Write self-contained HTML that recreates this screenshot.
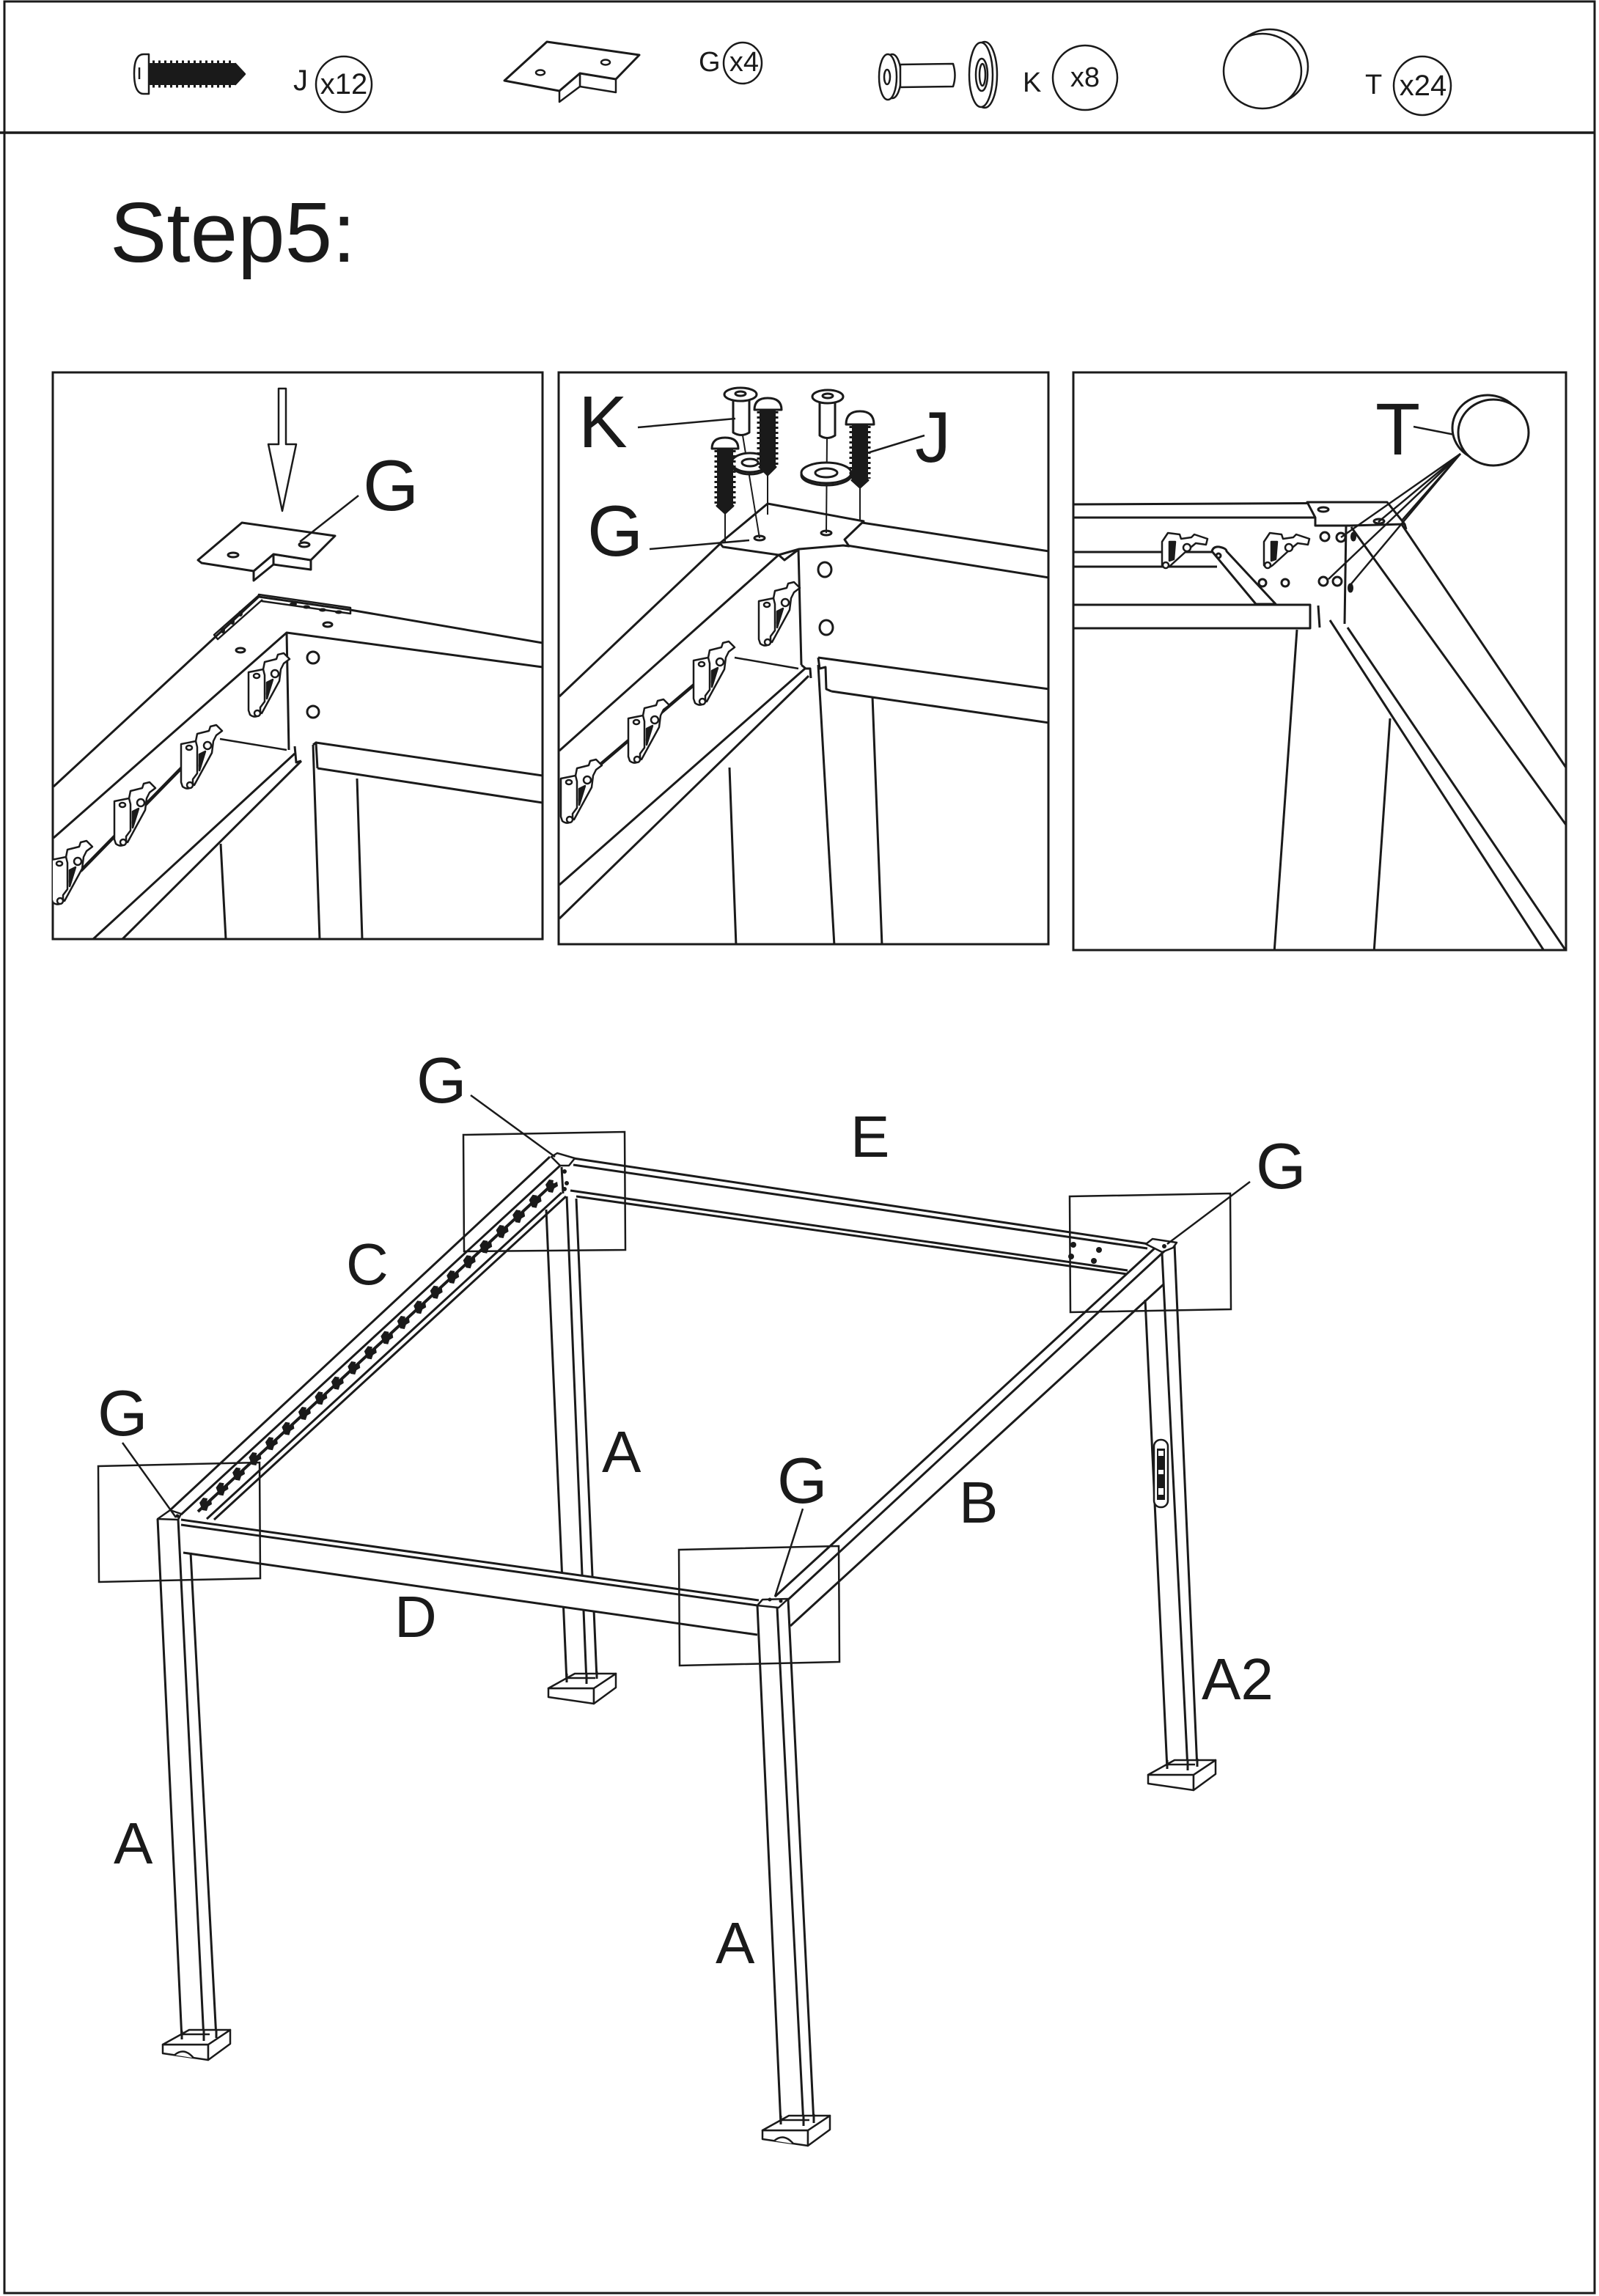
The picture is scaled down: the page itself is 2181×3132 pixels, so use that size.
<!DOCTYPE html>
<html><head><meta charset="utf-8"><style>
html,body{margin:0;padding:0;background:#fff;}
svg{display:block;}
text{font-family:"Liberation Sans",Arial,sans-serif;fill:#1a1a1a;}
</style></head><body>
<svg width="2181" height="3132" viewBox="0 0 2181 3132" xmlns="http://www.w3.org/2000/svg">
<defs>
<clipPath id="c1"><rect x="72" y="508" width="668" height="773"/></clipPath>
<clipPath id="c2"><rect x="762" y="508" width="668" height="780"/></clipPath>
<clipPath id="c3"><rect x="1464" y="508" width="672" height="788"/></clipPath>
<g id="hg" fill="#fff" stroke="#1a1a1a" stroke-width="2.5" stroke-linejoin="round">
  <path d="M22,26 L24,16 L40,12 L42,6 L50,4 L58,12 L50,18 L46,26 L44,42 L20,86 L14,80 L24,60 Z"/>
  <path d="M2,30 L22,26 L24,34 L24,70 L18,78 L18,86 Q12,94 4,88 L2,82 Z"/>
  <ellipse cx="13" cy="35" rx="4" ry="3"/>
  <path d="M27,44 L35,40 L27,66 Z" fill="#1a1a1a"/>
  <circle cx="38" cy="32" r="5"/>
  <circle cx="14" cy="86" r="4"/>
</g>
<g id="hg3" fill="#fff" stroke="#1a1a1a" stroke-width="2.5" stroke-linejoin="round">
  <path d="M6,14 L14,2 L30,4 L32,10 L46,8 L50,4 L68,10 L66,18 L52,16 L40,26 L18,46 Q10,52 6,46 Z"/>
  <path d="M16,14 L24,14 L22,38 L16,40 Z" fill="#1a1a1a"/>
  <circle cx="40" cy="22" r="5"/>
  <circle cx="11" cy="46" r="4"/>
</g>
<path id="mh" d="M-8,-2 L-3,-9 L3,-8 L2,-3 L8,-6 L9,0 L4,3 L2,9 L-4,8 L-6,3 Z" fill="#1a1a1a"/>
</defs>

<!-- outer border & header line -->
<rect x="6" y="2" width="2169" height="3126" fill="none" stroke="#1a1a1a" stroke-width="3"/>
<line x1="0" y1="181" x2="2175" y2="181" stroke="#1a1a1a" stroke-width="3.5"/>

<!-- ===== HEADER PARTS ===== -->
<g stroke="#1a1a1a" stroke-width="2.5" fill="#fff" stroke-linejoin="round">
  <!-- screw J -->
  <rect x="204" y="86" width="118" height="30" fill="#1a1a1a" stroke="none"/>
  <line x1="208" y1="85" x2="320" y2="85" stroke-width="5" stroke-dasharray="3 5"/>
  <line x1="208" y1="117" x2="320" y2="117" stroke-width="5" stroke-dasharray="3 5"/>
  <polygon points="321,87 334,101 321,115" fill="#1a1a1a"/>
  <path d="M196,74 Q183,74 183,100 Q183,128 196,128 L203,128 L203,74 Z"/>
  <line x1="190" y1="92" x2="190" y2="108"/>
  <!-- plate G -->
  <path d="M791,100 L840,108 L840,126 L791,118 Z"/>
  <path d="M791,100 L763,124 L763,139 L791,118 Z"/>
  <path d="M688,110 L746,57 L872,75 L840,108 L791,100 L763,124 Z" stroke-width="3"/>
  <ellipse cx="737" cy="99" rx="6" ry="3.5"/>
  <ellipse cx="826" cy="85" rx="6" ry="3.5"/>
  <!-- bushing K -->
  <ellipse cx="1217" cy="104" rx="12" ry="30"/>
  <ellipse cx="1211" cy="105" rx="12" ry="31"/>
  <ellipse cx="1210" cy="105" rx="4" ry="10"/>
  <path d="M1228,88 L1300,87 Q1305,103 1300,118 L1228,119 Z"/>
  <!-- washer -->
  <ellipse cx="1343" cy="102" rx="17" ry="45"/>
  <ellipse cx="1338" cy="102" rx="16" ry="44"/>
  <ellipse cx="1339" cy="102" rx="8" ry="22"/>
  <ellipse cx="1340" cy="102" rx="4" ry="15"/>
  <!-- cap T -->
  <ellipse cx="1732" cy="91" rx="52" ry="51"/>
  <ellipse cx="1722" cy="97" rx="53" ry="51"/>
  <!-- count circles -->
  <ellipse cx="469" cy="115" rx="38" ry="38"/>
  <ellipse cx="1013" cy="86" rx="26" ry="28"/>
  <ellipse cx="1480" cy="106" rx="44" ry="44"/>
  <ellipse cx="1940" cy="117" rx="39" ry="40"/>
</g>
<text x="400" y="123" font-size="40">J</text>
<text x="469" y="128" font-size="40" text-anchor="middle">x12</text>
<text x="953" y="97" font-size="38">G</text>
<text x="1015" y="97" font-size="38" text-anchor="middle">x4</text>
<text x="1395" y="125" font-size="38">K</text>
<text x="1480" y="118" font-size="38" text-anchor="middle">x8</text>
<text x="1862" y="128" font-size="38">T</text>
<text x="1941" y="130" font-size="40" text-anchor="middle">x24</text>

<text x="150" y="357" font-size="116">Step5:</text>

<!-- ===== PANEL 1 ===== -->
<rect x="72" y="508" width="668" height="773" fill="none" stroke="#1a1a1a" stroke-width="3"/>
<g clip-path="url(#c1)" fill="none" stroke="#1a1a1a" stroke-width="3" stroke-linejoin="round">
  <path d="M380,530 L390,530 L390,606 L404,606 L385,697 L366,606 L380,606 Z" fill="#fff" stroke-width="2.5"/>
  <path d="M373,756 L424,764 L424,777 L373,770 Z" fill="#fff"/>
  <path d="M373,756 L346,779 L346,792 L373,770 Z" fill="#fff"/>
  <path d="M270,764 L330,713 L457,731 L424,764 L373,756 L346,779 L275,768 Z" fill="#fff"/>
  <ellipse cx="318" cy="757" rx="7" ry="3"/>
  <ellipse cx="415" cy="743" rx="7" ry="3"/>
  <line x1="489" y1="676" x2="409" y2="739" stroke-width="2.5"/>
  <!-- rails -->
  <path d="M353,811 L478,829 L478,837 L357,820 Z" fill="#fff" stroke-width="2.5"/>
  <path d="M353,812 L292,866 L297,872 L358,818" fill="#fff" stroke-width="2.5"/>
  <g fill="#1a1a1a" stroke="none">
    <ellipse cx="400" cy="824" rx="5" ry="2.5"/><ellipse cx="418" cy="828" rx="5" ry="2.5"/>
    <ellipse cx="440" cy="832" rx="5" ry="2.5"/><ellipse cx="462" cy="835" rx="5" ry="2.5"/>
    <ellipse cx="328" cy="837" rx="3" ry="4"/><ellipse cx="317" cy="848" rx="3" ry="4"/><ellipse cx="304" cy="860" rx="3" ry="4"/>
  </g>
  <!-- beams -->
  <path d="M73,1073 L353,814 L478,832 L740,877"/>
  <path d="M73,1143 L391,863 L740,910"/>
  <path d="M391,863 L394,1023"/>
  <path d="M431,1013 L740,1058"/>
  <path d="M433,1048 L740,1095"/>
  <path d="M402,1018 L404,1040 L411,1038"/>
  <path d="M427,1016 L431,1013 L433,1048"/>
  <path d="M402,1028 L127,1281"/>
  <path d="M411,1038 L167,1281"/>
  <path d="M427,1016 L436,1281"/>
  <path d="M487,1062 L494,1281"/>
  <path d="M301,1151 L308,1281"/>
  <ellipse cx="427" cy="897" rx="8" ry="8"/>
  <ellipse cx="427" cy="971" rx="8" ry="8"/>
  <ellipse cx="328" cy="887" rx="6" ry="3"/>
  <ellipse cx="447" cy="852" rx="6" ry="3"/>
  <line x1="110" y1="1188" x2="250" y2="1045" stroke-width="4.5"/>
  <line x1="300" y1="1008" x2="391" y2="1023" stroke-width="2.5"/>
  <use href="#hg" transform="translate(337,887)"/>
  <use href="#hg" transform="translate(245,985)"/>
  <use href="#hg" transform="translate(154,1063)"/>
  <use href="#hg" transform="translate(68,1143)"/>
</g>
<text x="495" y="696" font-size="98">G</text>

<!-- ===== PANEL 2 ===== -->
<rect x="762" y="508" width="668" height="780" fill="none" stroke="#1a1a1a" stroke-width="3"/>
<g clip-path="url(#c2)" fill="none" stroke="#1a1a1a" stroke-width="3" stroke-linejoin="round">
  <path d="M763,950 L982,742"/>
  <path d="M763,1024 L1062,757"/>
  <path d="M1176,713 L1431,752"/>
  <path d="M1155,744 L1431,788"/>
  <path d="M1089,749 L1093,907"/>
  <path d="M1116,897 L1431,940"/>
  <path d="M1134,943 L1431,986"/>
  <path d="M1116,897 L1118,912 L1126,910 L1127,940 L1134,943"/>
  <path d="M1098,912 L763,1207"/>
  <path d="M1103,922 L763,1253"/>
  <path d="M1093,907 L1099,912 L1105,912 L1106,925"/>
  <path d="M1116,907 L1138,1290"/>
  <path d="M1190,950 L1203,1290"/>
  <path d="M995,1047 L1004,1290"/>
  <path d="M982,741 L1047,687 L1178,711 L1152,736 L1158,745 L1150,744 L1090,749 L1062,757 L986,746 Z" fill="#fff"/>
  <path d="M1062,757 L1070,764 L1090,749" />
  <ellipse cx="1036" cy="734" rx="7" ry="3"/>
  <ellipse cx="1127" cy="727" rx="7" ry="3"/>
  <ellipse cx="1125" cy="777" rx="9" ry="10"/>
  <ellipse cx="1127" cy="856" rx="9" ry="10"/>
  <line x1="808" y1="1052" x2="949" y2="932" stroke-width="4.5"/>
  <line x1="1002" y1="897" x2="1089" y2="912" stroke-width="2.5"/>
  <use href="#hg" transform="translate(1033,790)"/>
  <use href="#hg" transform="translate(944,871)"/>
  <use href="#hg" transform="translate(855,950)"/>
  <use href="#hg" transform="translate(763,1032)"/>
  <!-- fastener lines -->
  <g stroke-width="2">
    <line x1="989" y1="698" x2="989" y2="740"/>
    <line x1="1047" y1="646" x2="1047" y2="702"/>
    <line x1="1173" y1="663" x2="1173" y2="710"/>
    <line x1="1013" y1="594" x2="1036" y2="734"/>
    <line x1="1128" y1="598" x2="1127" y2="727"/>
  </g>
  <!-- washers -->
  <ellipse cx="1023" cy="634" rx="25" ry="13" fill="#fff"/>
  <ellipse cx="1023" cy="631" rx="25" ry="13" fill="#fff"/>
  <ellipse cx="1023" cy="631" rx="11" ry="5"/>
  <ellipse cx="1127" cy="648" rx="34" ry="14" fill="#fff"/>
  <ellipse cx="1127" cy="645" rx="34" ry="14" fill="#fff"/>
  <ellipse cx="1127" cy="645" rx="15" ry="6"/>
  <!-- screws J -->
  <g>
    <rect x="978" y="611" width="22" height="80" fill="#1a1a1a" stroke="none"/>
    <line x1="977" y1="614" x2="977" y2="688" stroke-width="5" stroke-dasharray="3 4"/>
    <line x1="1001" y1="614" x2="1001" y2="688" stroke-width="5" stroke-dasharray="3 4"/>
    <polygon points="978,690 1000,690 989,700" fill="#1a1a1a"/>
    <path d="M971,612 Q971,597 989,597 Q1007,597 1007,612 Z" fill="#fff"/>
    <rect x="1036" y="558" width="22" height="80" fill="#1a1a1a" stroke="none"/>
    <line x1="1035" y1="561" x2="1035" y2="635" stroke-width="5" stroke-dasharray="3 4"/>
    <line x1="1059" y1="561" x2="1059" y2="635" stroke-width="5" stroke-dasharray="3 4"/>
    <polygon points="1036,637 1058,637 1047,648" fill="#1a1a1a"/>
    <path d="M1029,559 Q1029,543 1047,543 Q1066,543 1066,559 Z" fill="#fff"/>
    <rect x="1162" y="578" width="22" height="78" fill="#1a1a1a" stroke="none"/>
    <line x1="1161" y1="581" x2="1161" y2="653" stroke-width="5" stroke-dasharray="3 4"/>
    <line x1="1185" y1="581" x2="1185" y2="653" stroke-width="5" stroke-dasharray="3 4"/>
    <polygon points="1162,655 1184,655 1173,665" fill="#1a1a1a"/>
    <path d="M1154,579 Q1154,561 1173,561 Q1192,561 1192,579 Z" fill="#fff"/>
  </g>
  <!-- bushings K -->
  <path d="M1000,545 L1022,545 L1022,590 Q1011,597 1000,590 Z" fill="#fff"/>
  <ellipse cx="1010" cy="538" rx="22" ry="9" fill="#fff"/>
  <ellipse cx="1010" cy="537" rx="7" ry="3"/>
  <path d="M1118,548 L1139,548 L1139,594 Q1128,601 1118,594 Z" fill="#fff"/>
  <ellipse cx="1129" cy="541" rx="21" ry="9" fill="#fff"/>
  <ellipse cx="1129" cy="540" rx="7" ry="3"/>
  <!-- leaders -->
  <line x1="870" y1="583" x2="1003" y2="571" stroke-width="2.5"/>
  <line x1="1261" y1="594" x2="1186" y2="617" stroke-width="2.5"/>
  <line x1="886" y1="749" x2="1022" y2="737" stroke-width="2.5"/>
</g>
<text x="789" y="610" font-size="100">K</text>
<text x="1248" y="630" font-size="98">J</text>
<text x="801" y="758" font-size="98">G</text>

<!-- ===== PANEL 3 ===== -->
<rect x="1464" y="508" width="672" height="788" fill="none" stroke="#1a1a1a" stroke-width="3"/>
<g clip-path="url(#c3)" fill="none" stroke="#1a1a1a" stroke-width="3" stroke-linejoin="round">
  <path d="M1463,688 L1892,686"/>
  <path d="M1463,706 L1794,706"/>
  <path d="M1463,753 L1655,753"/>
  <path d="M1463,773 L1660,773"/>
  <path d="M1463,825 L1787,825 L1787,857 L1463,857"/>
  <path d="M1798,826 L1800,856"/>
  <path d="M1892,686 L2138,1050"/>
  <path d="M1843,719 L2138,1128"/>
  <path d="M1814,846 L2108,1300"/>
  <path d="M1838,856 L2138,1300"/>
  <path d="M1836,717 L1834,851"/>
  <path d="M1769,859 L1738,1300"/>
  <path d="M1896,980 L1874,1300"/>
  <path d="M1783,685 L1892,685 L1916,715 L1841,717 L1794,717 L1794,706 Z" fill="#fff"/>
  <path d="M1916,715 L1918,722"/>
  <ellipse cx="1805" cy="695" rx="7" ry="3"/>
  <ellipse cx="1881" cy="711" rx="7" ry="3"/>
  <path d="M1653,752 Q1655,745 1663,746 Q1673,748 1673,752 L1740,824 L1713,824 Z" fill="#fff"/>
  <circle cx="1662" cy="758" r="3"/>
  <use href="#hg3" transform="translate(1579,725)"/>
  <use href="#hg3" transform="translate(1718,725)"/>
  <circle cx="1807" cy="732" r="6"/>
  <circle cx="1829" cy="733" r="6"/>
  <circle cx="1805" cy="793" r="6"/>
  <circle cx="1824" cy="793" r="6"/>
  <circle cx="1722" cy="795" r="5"/>
  <circle cx="1753" cy="795" r="5"/>
  <ellipse cx="1846" cy="732" rx="2.5" ry="5" fill="#1a1a1a"/>
  <ellipse cx="1842" cy="802" rx="2.5" ry="5" fill="#1a1a1a"/>
  <g stroke-width="2.5">
    <line x1="1992" y1="619" x2="1829" y2="733"/>
    <line x1="1992" y1="619" x2="1880" y2="712"/>
    <line x1="1992" y1="619" x2="1912" y2="710"/>
    <line x1="1992" y1="619" x2="1812" y2="790"/>
    <line x1="1992" y1="619" x2="1840" y2="800"/>
    <line x1="1928" y1="582" x2="1984" y2="593"/>
  </g>
  <ellipse cx="2029" cy="584" rx="48" ry="45" fill="#fff"/>
  <ellipse cx="2037" cy="590" rx="48" ry="45" fill="#fff"/>
</g>
<text x="1876" y="620" font-size="100">T</text>

<!-- ===== MAIN FRAME ===== -->
<g fill="none" stroke="#1a1a1a" stroke-width="3" stroke-linejoin="round">
  <!-- back-left leg -->
  <path d="M745,1650 L773,2295"/>
  <path d="M773,1632 L800,2295"/>
  <path d="M786,1635 L814,2290"/>
  <!-- back-right leg A2 -->
  <path d="M1562,1773 L1592,2413"/>
  <path d="M1585,1710 L1620,2413"/>
  <path d="M1602,1698 L1633,2413"/>
  <rect x="1574" y="1964" width="19" height="92" rx="9" fill="#fff" stroke-width="2.5"/>
  <rect x="1578" y="1976" width="11" height="70" fill="#1a1a1a" stroke="none"/>
  <rect x="1580" y="1979" width="7" height="7" fill="#fff" stroke="none"/>
  <rect x="1580" y="2005" width="7" height="6" fill="#fff" stroke="none"/>
  <rect x="1580" y="2030" width="7" height="9" fill="#fff" stroke="none"/>
  <!-- E beam -->
  <path d="M782,1580 L1567,1697"/>
  <path d="M782,1589 L1565,1703"/>
  <path d="M778,1624 L1538,1733"/>
  <path d="M786,1632 L1537,1738"/>
  <!-- B beam -->
  <path d="M1057,2178 L1578,1700"/>
  <path d="M1075,2182 L1590,1705"/>
  <path d="M1078,2218 L1587,1752"/>
  <!-- back-right corner cap -->
  <path d="M1563,1697 L1572,1690 L1605,1695 L1600,1702 L1585,1708 Z" fill="#fff" stroke-width="2.5"/>
  <!-- C beam -->
  <path d="M232,2060 L750,1578"/>
  <path d="M247,2066 L764,1590"/>
  <path d="M282,2072 L766,1627"/>
  <path d="M292,2073 L772,1632"/>
  <path d="M752,1578 L760,1573 L784,1580 L776,1590 L764,1590 Z" fill="#fff" stroke-width="2.5"/>
  <path d="M766,1592 L768,1628"/>
  <line x1="270" y1="2062" x2="755" y2="1614" stroke-width="4"/>
  <!-- D beam (occludes back leg) -->
  <path d="M247,2073 L1035,2183 L1033,2230 L250,2118 Z" fill="#fff" stroke="none"/>
  <path d="M247,2073 L1035,2183"/>
  <path d="M247,2080 L1033,2190"/>
  <path d="M250,2118 L1033,2230"/>
  <!-- front-left leg -->
  <path d="M215,2072 L248,2782"/>
  <path d="M243,2073 L278,2782"/>
  <path d="M260,2118 L295,2780"/>
  <path d="M215,2072 L232,2060 L247,2065 L243,2073 Z" fill="#fff" stroke-width="2.5"/>
  <!-- front-right leg -->
  <path d="M1033,2190 L1065,2898"/>
  <path d="M1060,2193 L1096,2898"/>
  <path d="M1075,2182 L1110,2896"/>
  <path d="M1033,2190 L1040,2182 L1075,2181 L1062,2193 Z" fill="#fff" stroke-width="2.5"/>
</g>
<!-- hinge row on C -->
<g>
  <use href="#mh" x="280" y="2052"/><use href="#mh" x="302.5" y="2031.3"/><use href="#mh" x="325" y="2010.7"/>
  <use href="#mh" x="347.4" y="1990"/><use href="#mh" x="369.9" y="1969.3"/><use href="#mh" x="392.4" y="1948.7"/>
  <use href="#mh" x="414.9" y="1928"/><use href="#mh" x="437.4" y="1907.3"/><use href="#mh" x="459.8" y="1886.7"/>
  <use href="#mh" x="482.3" y="1866"/><use href="#mh" x="504.8" y="1845.3"/><use href="#mh" x="527.3" y="1824.7"/>
  <use href="#mh" x="549.8" y="1804"/><use href="#mh" x="572.2" y="1783.3"/><use href="#mh" x="594.7" y="1762.7"/>
  <use href="#mh" x="617.2" y="1742"/><use href="#mh" x="639.7" y="1721.3"/><use href="#mh" x="662.2" y="1700.7"/>
  <use href="#mh" x="684.6" y="1680"/><use href="#mh" x="707.1" y="1659.3"/><use href="#mh" x="729.6" y="1638.7"/>
  <use href="#mh" x="752" y="1618"/>
</g>
<!-- dots -->
<g fill="#1a1a1a">
  <circle cx="1464" cy="1698" r="4"/><circle cx="1499" cy="1705" r="4"/>
  <circle cx="1461" cy="1714" r="4"/><circle cx="1492" cy="1720" r="4"/>
  <circle cx="770" cy="1598" r="3"/><circle cx="773" cy="1614" r="3"/><circle cx="770" cy="1622" r="3"/>
  <circle cx="1588" cy="1700" r="3"/><circle cx="1050" cy="2182" r="2.5"/><circle cx="1065" cy="2184" r="2.5"/>
  <circle cx="242" cy="2068" r="2.5"/>
</g>
<!-- feet -->
<g fill="#fff" stroke="#1a1a1a" stroke-width="2.5" stroke-linejoin="round">
  <g transform="translate(222,2789)">
    <path d="M0,0 L0,12 L62,21 L62,0 Z"/>
    <path d="M62,0 L92,-20 L92,-1 L62,21 Z"/>
    <path d="M0,0 L36,-20 L92,-20 L62,0 Z"/>
    <path d="M26,-14 L64,-14" />
    <path d="M16,14.3 Q29,3 42,18.2"/>
  </g>
  <g transform="translate(1040,2906)">
    <path d="M0,0 L0,12 L62,21 L62,0 Z"/>
    <path d="M62,0 L92,-20 L92,-1 L62,21 Z"/>
    <path d="M0,0 L36,-20 L92,-20 L62,0 Z"/>
    <path d="M26,-14 L64,-14" />
    <path d="M16,14.3 Q29,3 42,18.2"/>
  </g>
  <g transform="translate(748,2303)">
    <path d="M0,0 L0,12 L62,21 L62,0 Z"/>
    <path d="M62,0 L92,-20 L92,-1 L62,21 Z"/>
    <path d="M0,0 L36,-20 L92,-20 L62,0 Z"/>
    <path d="M26,-14 L64,-14" />
  </g>
  <g transform="translate(1566,2421)">
    <path d="M0,0 L0,12 L62,21 L62,0 Z"/>
    <path d="M62,0 L92,-20 L92,-1 L62,21 Z"/>
    <path d="M0,0 L36,-20 L92,-20 L62,0 Z"/>
    <path d="M26,-14 L64,-14" />
  </g>
</g>
<!-- leg stubs over feet -->
<g fill="none" stroke="#1a1a1a" stroke-width="3">
  <path d="M248,2770 L248,2782 M278,2770 L278,2784 M295,2768 L295,2780"/>
  <path d="M1065,2886 L1065,2898 M1096,2886 L1096,2900 M1110,2884 L1110,2896"/>
  <path d="M773,2283 L773,2295 M800,2283 L800,2297 M814,2280 L814,2290"/>
  <path d="M1592,2401 L1592,2413 M1620,2401 L1620,2415 M1633,2399 L1633,2410"/>
</g>
<!-- callout boxes -->
<g fill="none" stroke="#1a1a1a" stroke-width="2.5">
  <polygon points="632,1548 852,1544 853,1705 633,1707"/>
  <polygon points="1459,1632 1678,1628 1679,1786 1460,1790"/>
  <polygon points="134,2000 354,1995 355,2153 135,2158"/>
  <polygon points="926,2114 1144,2109 1145,2267 927,2272"/>
  <line x1="642" y1="1494" x2="757" y2="1578"/>
  <line x1="1705" y1="1612" x2="1592" y2="1697"/>
  <line x1="167" y1="1968" x2="240" y2="2070"/>
  <line x1="1095" y1="2058" x2="1057" y2="2178"/>
</g>
<!-- labels -->
<text x="568" y="1504" font-size="88">G</text>
<text x="1713" y="1621" font-size="88">G</text>
<text x="133" y="1958" font-size="88">G</text>
<text x="1060" y="2050" font-size="88">G</text>
<text x="1160" y="1578" font-size="80">E</text>
<text x="472" y="1752" font-size="80">C</text>
<text x="821" y="2008" font-size="80">A</text>
<text x="1308" y="2077" font-size="80">B</text>
<text x="538" y="2233" font-size="80">D</text>
<text x="155" y="2542" font-size="80">A</text>
<text x="976" y="2678" font-size="80">A</text>
<text x="1639" y="2318" font-size="80">A2</text>
</svg>
</body></html>
